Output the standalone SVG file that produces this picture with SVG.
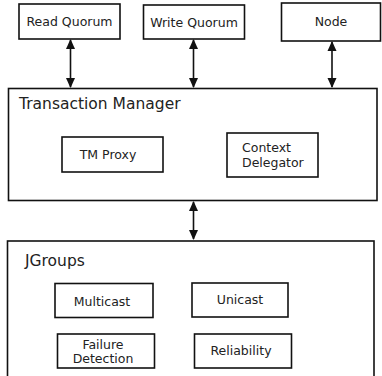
<svg xmlns="http://www.w3.org/2000/svg" width="382" height="376" viewBox="0 0 382 376">
<style>
.box{fill:#fff;stroke:#111;stroke-width:1.6}
.lbl{font-family:"DejaVu Sans",sans-serif;font-size:12.5px;fill:#222}
.ctr{text-anchor:middle}
.ttl{font-family:"DejaVu Sans",sans-serif;font-size:15.5px;fill:#222}
.con{stroke:#111;stroke-width:1.6;fill:none;marker-start:url(#ah);marker-end:url(#ah)}
</style>
<defs>
<marker id="ah" viewBox="0 0 10 10" refX="9" refY="5" markerWidth="10" markerHeight="10" markerUnits="userSpaceOnUse" orient="auto-start-reverse">
<path d="M0,0.5 L10,5 L0,9.5 z" fill="#111"/>
</marker>
</defs>
<rect width="382" height="376" fill="#fff"/>
<g id="read-quorum"><rect class="box" x="19" y="4" width="101" height="35"/><text class="lbl ctr" x="69.5" y="26">Read Quorum</text></g>
<g id="write-quorum"><rect class="box" x="143.5" y="5" width="101" height="34"/><text class="lbl ctr" x="194" y="27">Write Quorum</text></g>
<g id="node"><rect class="box" x="281.5" y="3" width="99" height="38"/><text class="lbl ctr" x="331" y="26">Node</text></g>
<g id="transaction-manager"><rect class="box" x="8.5" y="88.5" width="368.5" height="112"/><text class="ttl" x="19" y="109">Transaction Manager</text></g>
<g id="tm-proxy"><rect class="box" x="62" y="137" width="101" height="35"/><text class="lbl ctr" x="108" y="159">TM Proxy</text></g>
<g id="context-delegator"><rect class="box" x="227" y="133" width="91" height="44"/><text class="lbl" x="242" y="152">Context</text><text class="lbl" x="242" y="167">Delegator</text></g>
<g id="jgroups"><rect class="box" x="7.5" y="241" width="366.5" height="140"/><text class="ttl" x="25" y="266">JGroups</text></g>
<g id="multicast"><rect class="box" x="55" y="283.5" width="98" height="34"/><text class="lbl ctr" x="102" y="306">Multicast</text></g>
<g id="unicast"><rect class="box" x="192" y="283" width="96" height="34"/><text class="lbl ctr" x="240" y="304">Unicast</text></g>
<g id="failure-detection"><rect class="box" x="57.5" y="334" width="97" height="34"/><text class="lbl ctr" x="103" y="349">Failure</text><text class="lbl ctr" x="103" y="363">Detection</text></g>
<g id="reliability"><rect class="box" x="194.5" y="334" width="97" height="34"/><text class="lbl ctr" x="241" y="355">Reliability</text></g>
<g id="connectors">
<line class="con" x1="70.5" y1="40" x2="70.5" y2="87"/>
<line class="con" x1="193.5" y1="40" x2="193.5" y2="87"/>
<line class="con" x1="332" y1="42" x2="332" y2="87"/>
<line class="con" x1="193.5" y1="202" x2="193.5" y2="239"/>
</g>
</svg>
